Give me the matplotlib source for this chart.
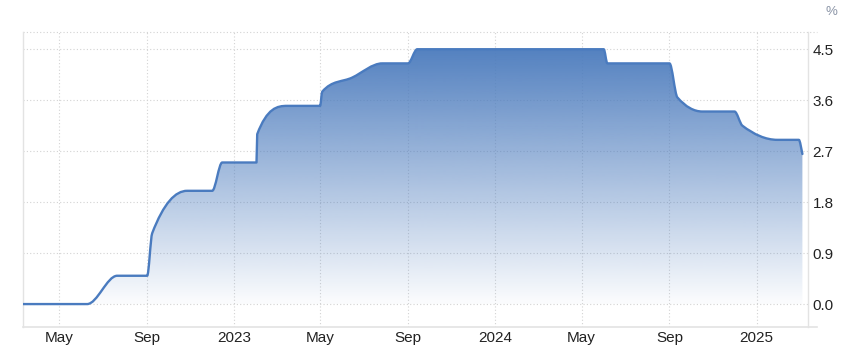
import numpy as np
import matplotlib
matplotlib.use('Agg')
import matplotlib.pyplot as plt
import matplotlib.dates as mdates
from matplotlib.path import Path
from matplotlib.patches import PathPatch
from matplotlib.ticker import FuncFormatter, FixedLocator
from datetime import datetime

# rate decisions and month-start readings, %
dates = ['2022-03-10', '2022-06-09', '2022-07-21', '2022-09-01', '2022-09-08',
         '2022-10-27', '2022-12-01', '2022-12-15', '2023-02-01', '2023-02-02',
         '2023-03-16', '2023-05-01', '2023-05-04', '2023-06-15', '2023-07-27',
         '2023-09-01', '2023-09-14', '2024-06-01', '2024-06-06', '2024-09-01',
         '2024-09-12', '2024-10-17', '2024-12-01', '2024-12-12', '2025-01-30',
         '2025-03-01', '2025-03-06']
rates = [0.0, 0.0, 0.5, 0.5, 1.25,
         2.0, 2.0, 2.5, 2.5, 3.0,
         3.5, 3.5, 3.75, 4.0, 4.25,
         4.25, 4.5, 4.5, 4.25, 4.25,
         3.65, 3.4, 3.4, 3.15, 2.9,
         2.9, 2.65]
yticks = [0.0, 0.9, 1.8, 2.7, 3.6, 4.5]

LINE = '#4a7bbf'
GRID = '#d3d3d3'
AXIS = '#e3e3e3'
TXT = '#222222'

def tangents(x, y):
    # monotone (pchip-like) slopes so the curve never overshoots the steps
    h = np.diff(x)
    d = np.diff(y)/h
    m = np.zeros_like(y)
    for k in range(1, len(x)-1):
        if d[k-1]*d[k] > 0:
            w1 = 2*h[k]+h[k-1]
            w2 = h[k]+2*h[k-1]
            m[k] = (w1+w2)/(w1/d[k-1]+w2/d[k])
    def end(h0, h1, d0, d1):
        s = ((2*h0+h1)*d0-h0*d1)/(h0+h1)
        if np.sign(s) != np.sign(d0):
            return 0.0
        if np.sign(d0) != np.sign(d1) and abs(s) > 3*abs(d0):
            return 3*d0
        return s
    m[0] = end(h[0], h[1], d[0], d[1])
    m[-1] = end(h[-1], h[-2], d[-1], d[-2])
    return m

def spline_path(x, y, close_to=None):
    m = tangents(x, y)
    verts = [(x[0], y[0])]
    codes = [Path.MOVETO]
    for i in range(len(x)-1):
        h = x[i+1]-x[i]
        verts += [(x[i]+h/3, y[i]+m[i]*h/3), (x[i+1]-h/3, y[i+1]-m[i+1]*h/3), (x[i+1], y[i+1])]
        codes += [Path.CURVE4]*3
    if close_to is not None:
        verts += [(x[-1], close_to), (x[0], close_to), (x[0], y[0])]
        codes += [Path.LINETO, Path.LINETO, Path.CLOSEPOLY]
    return Path(verts, codes)

xs = mdates.date2num([datetime.strptime(d, '%Y-%m-%d') for d in dates])
ys = np.array(rates, dtype=float)

plt.rcParams['font.family'] = ['Liberation Sans', 'DejaVu Sans']

fig = plt.figure(figsize=(8.47, 3.52), dpi=100, facecolor='white')
ax = fig.add_axes((0.0268, 0.0702, 0.9268, 0.8398))

x0 = mdates.date2num(datetime(2022, 3, 10, 19))
x1 = mdates.date2num(datetime(2025, 3, 13, 10))
ax.set_xlim(x0, x1)
ax.set_ylim(-0.41, 4.81)

# gradient area under the curve
area = PathPatch(spline_path(xs, ys, close_to=0.0), facecolor='none', edgecolor='none')
ax.add_patch(area)
n = 256
grad = np.zeros((n, 1, 4))
grad[:, 0, 0] = 78/255
grad[:, 0, 1] = 125/255
grad[:, 0, 2] = 190/255
grad[:, 0, 3] = np.linspace(0.02, 0.97, n)
im = ax.imshow(grad, extent=(x0, x1, 0, max(rates)), origin='lower', aspect='auto', zorder=2)
im.set_clip_path(area)

line = PathPatch(spline_path(xs, ys), facecolor='none', edgecolor=LINE, lw=1.7,
                 capstyle='round', joinstyle='round', zorder=3)
ax.add_patch(line)

# axes
ax.xaxis.set_major_locator(mdates.MonthLocator(bymonth=[1, 5, 9]))
ax.xaxis.set_major_formatter(FuncFormatter(
    lambda v, p: mdates.num2date(v).strftime('%Y' if mdates.num2date(v).month == 1 else '%b')))
ax.yaxis.tick_right()
ax.yaxis.set_major_locator(FixedLocator(yticks))
ax.yaxis.set_major_formatter(FuncFormatter(lambda v, p: '%.1f' % v))
ax.tick_params(axis='both', length=0, labelsize=11, labelcolor=TXT)
ax.tick_params(axis='x', pad=2.5)
ax.tick_params(axis='y', pad=3.5)

ax.grid(True, color=GRID, lw=0.8, ls=(0, (1, 2)), zorder=1)
ax.set_axisbelow(True)

for s in ['left', 'right']:
    ax.spines[s].set_color(AXIS)
    ax.spines[s].set_linewidth(1)
ax.spines['top'].set_visible(False)
ax.spines['bottom'].set_visible(False)
ax.plot([0, 1.0115], [0, 0], transform=ax.transAxes, color=AXIS, lw=1.2, clip_on=False)
ax.plot([0, 1.0115], [1, 1], transform=ax.transAxes, color=GRID, lw=0.8, ls=(0, (1, 2)), clip_on=False)

fig.text(831/847, 1-12/352, '%', ha='center', va='center', fontsize=9.5, color='#8a94a6')

fig.savefig('out.png', dpi=100, facecolor='white')
